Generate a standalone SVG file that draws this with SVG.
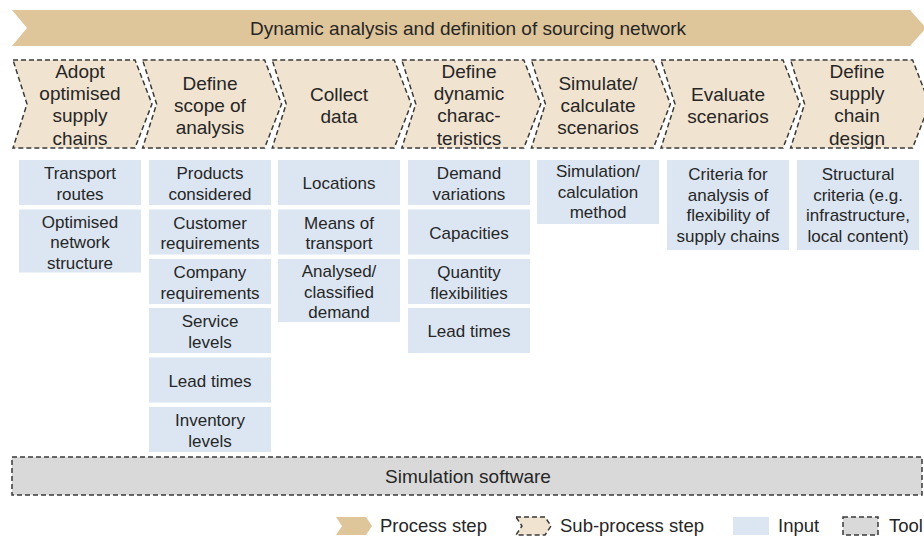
<svg xmlns="http://www.w3.org/2000/svg" width="924" height="537" viewBox="0 0 924 537">
<style>
text{font-family:"Liberation Sans",Arial,sans-serif;fill:#262626;text-anchor:middle}
.banner{fill:#dfc59a}
.sub{fill:#f0e3cf;stroke:#3a3a3a;stroke-width:1.5;stroke-dasharray:5 3}
.inp{fill:#dce6f2}
.tool{fill:#d9d9d9;stroke:#3a3a3a;stroke-width:1.5;stroke-dasharray:5 3}
.t19{font-size:19px}
.t17{font-size:17px}
.lg{font-size:18.5px;text-anchor:start}
</style>
<rect width="924" height="537" fill="#ffffff"/>
<g id="banner">
<polygon class="banner" points="12,10 910,10 926,28 910,46 12,46 27,28"/>
<text class="t19" x="468" y="35">Dynamic analysis and definition of sourcing network</text>
</g>
<g id="step1"><polygon class="sub" points="13,60 135,60 152,104 135,148 13,148 27,104"/>
<text class="t19" x="80" y="78">Adopt</text><text class="t19" x="80" y="100">optimised</text><text class="t19" x="80" y="122">supply</text><text class="t19" x="80" y="145">chains</text></g>
<g id="step2"><polygon class="sub" points="142.6,60 264.6,60 281.6,104 264.6,148 142.6,148 156.6,104"/>
<text class="t19" x="210" y="90">Define</text><text class="t19" x="210" y="112">scope of</text><text class="t19" x="210" y="134">analysis</text></g>
<g id="step3"><polygon class="sub" points="272.2,60 394.2,60 411.2,104 394.2,148 272.2,148 286.2,104"/>
<text class="t19" x="339" y="101">Collect</text><text class="t19" x="339" y="123">data</text></g>
<g id="step4"><polygon class="sub" points="401.8,60 523.8,60 540.8,104 523.8,148 401.8,148 415.8,104"/>
<text class="t19" x="469" y="78">Define</text><text class="t19" x="469" y="100">dynamic</text><text class="t19" x="469" y="122">charac-</text><text class="t19" x="469" y="145">teristics</text></g>
<g id="step5"><polygon class="sub" points="531.4,60 653.4,60 670.4,104 653.4,148 531.4,148 545.4,104"/>
<text class="t19" x="598" y="90">Simulate/</text><text class="t19" x="598" y="112">calculate</text><text class="t19" x="598" y="134">scenarios</text></g>
<g id="step6"><polygon class="sub" points="661,60 783,60 800,104 783,148 661,148 675,104"/>
<text class="t19" x="728" y="101">Evaluate</text><text class="t19" x="728" y="123">scenarios</text></g>
<g id="step7"><polygon class="sub" points="790.6,60 912.6,60 929.6,104 912.6,148 790.6,148 804.6,104"/>
<text class="t19" x="857" y="78">Define</text><text class="t19" x="857" y="100">supply</text><text class="t19" x="857" y="122">chain</text><text class="t19" x="857" y="145">design</text></g>

<g id="in-c1-1"><rect class="inp" x="19" y="160" width="122" height="45"/><text class="t17" x="80" y="179">Transport</text><text class="t17" x="80" y="199.5">routes</text></g>
<g id="in-c1-2"><rect class="inp" x="19" y="209.5" width="122" height="63"/><text class="t17" x="80" y="227.5">Optimised</text><text class="t17" x="80" y="248">network</text><text class="t17" x="80" y="268.5">structure</text></g>

<g id="in-c2-1"><rect class="inp" x="149" y="160" width="122" height="45"/><text class="t17" x="210" y="179">Products</text><text class="t17" x="210" y="199.5">considered</text></g>
<g id="in-c2-2"><rect class="inp" x="149" y="209.5" width="122" height="45"/><text class="t17" x="210" y="228.5">Customer</text><text class="t17" x="210" y="249">requirements</text></g>
<g id="in-c2-3"><rect class="inp" x="149" y="259" width="122" height="45"/><text class="t17" x="210" y="278">Company</text><text class="t17" x="210" y="298.5">requirements</text></g>
<g id="in-c2-4"><rect class="inp" x="149" y="308" width="122" height="45"/><text class="t17" x="210" y="327">Service</text><text class="t17" x="210" y="347.5">levels</text></g>
<g id="in-c2-5"><rect class="inp" x="149" y="357.5" width="122" height="45"/><text class="t17" x="210" y="386.5">Lead times</text></g>
<g id="in-c2-6"><rect class="inp" x="149" y="407" width="122" height="45"/><text class="t17" x="210" y="426">Inventory</text><text class="t17" x="210" y="446.5">levels</text></g>

<g id="in-c3-1"><rect class="inp" x="278" y="160" width="122" height="45"/><text class="t17" x="339" y="189">Locations</text></g>
<g id="in-c3-2"><rect class="inp" x="278" y="209.5" width="122" height="45"/><text class="t17" x="339" y="228.5">Means of</text><text class="t17" x="339" y="249">transport</text></g>
<g id="in-c3-3"><rect class="inp" x="278" y="259" width="122" height="63"/><text class="t17" x="339" y="277">Analysed/</text><text class="t17" x="339" y="297.5">classified</text><text class="t17" x="339" y="318">demand</text></g>

<g id="in-c4-1"><rect class="inp" x="408" y="160" width="122" height="45"/><text class="t17" x="469" y="179">Demand</text><text class="t17" x="469" y="199.5">variations</text></g>
<g id="in-c4-2"><rect class="inp" x="408" y="209.5" width="122" height="45"/><text class="t17" x="469" y="238.5">Capacities</text></g>
<g id="in-c4-3"><rect class="inp" x="408" y="259" width="122" height="45"/><text class="t17" x="469" y="278">Quantity</text><text class="t17" x="469" y="298.5">flexibilities</text></g>
<g id="in-c4-4"><rect class="inp" x="408" y="308" width="122" height="45"/><text class="t17" x="469" y="337">Lead times</text></g>

<g id="in-c5-1"><rect class="inp" x="537" y="160" width="122" height="64"/><text class="t17" x="598" y="177">Simulation/</text><text class="t17" x="598" y="197.5">calculation</text><text class="t17" x="598" y="218">method</text></g>
<g id="in-c6-1"><rect class="inp" x="667" y="160" width="122" height="90"/><text class="t17" x="728" y="180">Criteria for</text><text class="t17" x="728" y="200.5">analysis of</text><text class="t17" x="728" y="221">flexibility of</text><text class="t17" x="728" y="241.5">supply chains</text></g>
<g id="in-c7-1"><rect class="inp" x="797" y="160" width="122" height="90"/><text class="t17" x="858" y="180">Structural</text><text class="t17" x="858" y="200.5">criteria (e.g.</text><text class="t17" x="858" y="221">infrastructure,</text><text class="t17" x="858" y="241.5">local content)</text></g>

<g id="tool"><rect class="tool" x="12" y="457" width="910" height="38"/><text class="t19" x="468" y="483">Simulation software</text></g>

<g id="legend">
<polygon class="banner" points="336,517 366,517 372,526 366,535 336,535 342,526"/>
<text class="lg" x="380" y="532">Process step</text>
<polygon class="sub" points="516,517 545,517 551,526 545,535 516,535 522,526"/>
<text class="lg" x="560" y="532">Sub-process step</text>
<rect class="inp" x="733" y="517" width="36" height="18"/>
<text class="lg" x="778" y="532">Input</text>
<rect class="tool" x="843" y="517" width="35" height="18"/>
<text class="lg" x="889" y="532">Tool</text>
</g>
<g id="connectors"></g>
</svg>
